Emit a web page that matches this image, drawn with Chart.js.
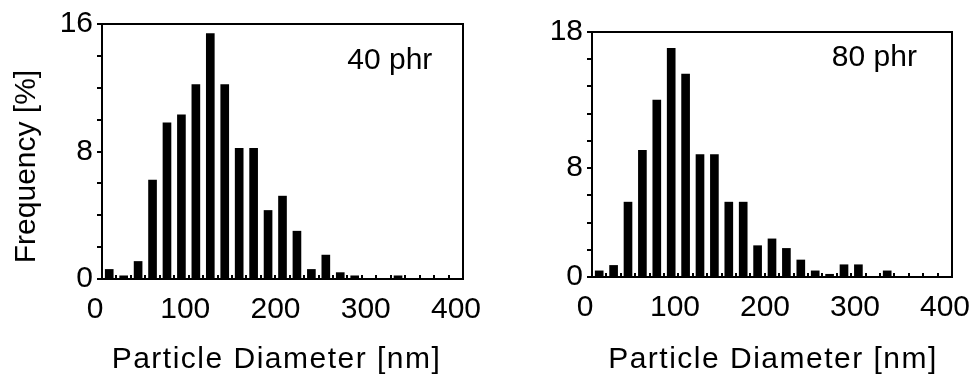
<!DOCTYPE html>
<html>
<head>
<meta charset="utf-8">
<script src="https://cdn.jsdelivr.net/npm/chart.js@4.4.1/dist/chart.umd.min.js"></script>
<style>
  html, body { margin: 0; padding: 0; background: #fff; }
  #wrap { position: relative; width: 980px; height: 376px; }
  canvas { position: absolute; top: 0; }
</style>
</head>
<body>
<div id="wrap">
  <canvas id="c40" width="490" height="376" style="left:0"></canvas>
  <canvas id="c80" width="490" height="376" style="left:490px"></canvas>
</div>
<script>
// 16 nm bins, centre of each bin [nm]
const binCenters = [8, 24, 40, 56, 72, 88, 104, 120, 136, 152, 168, 184, 200,
                    216, 232, 248, 264, 280, 296, 312, 328, 344, 360, 376, 392];
// bin boundaries marked along the bottom axis
const binEdges = [16, 32, 48, 64, 80, 96, 112, 128, 144, 160, 176, 192,
                  208, 224, 240, 256, 272, 288, 304, 320, 336, 352, 368, 384];

// frequency [%] per bin
const freq40 = [0.6, 0.2, 1.1, 6.2, 9.8, 10.3, 12.2, 15.4, 12.2, 8.2, 8.2, 4.3, 5.2,
                3.0, 0.6, 1.5, 0.4, 0.2, 0, 0, 0.2, 0, 0, 0, 0];
const freq80 = [0.45, 0.85, 5.5, 9.3, 13.0, 16.8, 14.9, 9.0, 9.0, 5.5, 5.5, 2.3, 2.8,
                2.1, 1.25, 0.45, 0.2, 0.9, 0.9, 0, 0.45, 0, 0, 0, 0];

const xTickLabels = [0, 100, 200, 300, 400];
const yTickLabels40 = [0, 8, 16];
const yTickLabels80 = [0, 8, 18];

const FONT = '"Liberation Sans", Arial, Helvetica, sans-serif';

// frame, bin marks, sample tag and axis titles
const panelDecor = {
  id: 'panelDecor',
  afterDatasetsDraw(chart, args, o) {
    const { ctx, chartArea: a, scales: { x, y } } = chart;
    ctx.save();
    ctx.strokeStyle = '#000';
    ctx.lineWidth = 2;
    const y0 = y.getPixelForValue(0);
    ctx.beginPath();
    binEdges.forEach(e => {
      const px = Math.round(x.getPixelForValue(e));
      ctx.moveTo(px, y0);
      ctx.lineTo(px, y0 - 4);
    });
    ctx.stroke();
    ctx.strokeRect(a.left, a.top, a.right - a.left, a.bottom - a.top);

    ctx.fillStyle = '#000';
    ctx.font = '30px ' + FONT;
    ctx.textAlign = 'right';
    ctx.textBaseline = 'middle';
    ctx.fillText(o.tag, x.getPixelForValue(o.tagX), y.getPixelForValue(o.tagY));

    ctx.textAlign = 'center';
    ctx.letterSpacing = '1.5px';
    ctx.fillText(o.xTitle, (a.left + a.right) / 2 + o.xTitleShift, 360);
    ctx.letterSpacing = '0px';
    if (o.yTitle) {
      ctx.translate(27, (a.top + a.bottom) / 2 + 15);
      ctx.rotate(-Math.PI / 2);
      ctx.fillText(o.yTitle, 0, 0);
    }
    ctx.restore();
  }
};

function makePanel(id, values, yMax, yLabels, cfg) {
  return new Chart(document.getElementById(id), {
    type: 'bar',
    data: {
      datasets: [{
        data: binCenters.map((c, i) => ({ x: c, y: values[i] })),
        backgroundColor: '#000',
        borderWidth: 0,
        barThickness: 8
      }]
    },
    options: {
      responsive: false,
      animation: false,
      devicePixelRatio: 1,
      layout: { padding: { top: cfg.top, right: cfg.right, left: 0, bottom: 0 } },
      plugins: {
        legend: { display: false },
        tooltip: { enabled: false },
        panelDecor: {
          tag: cfg.tag, tagX: cfg.tagX, tagY: cfg.tagY,
          xTitle: 'Particle Diameter [nm]', xTitleShift: cfg.xTitleShift,
          yTitle: cfg.yTitle
        }
      },
      scales: {
        x: {
          type: 'linear',
          min: 0,
          max: 400,
          offset: false,
          afterFit: s => {
            s.height = cfg.xHeight;
            // let the end labels hang into the outer margin
            s.paddingLeft = 0;
            s.paddingRight = 0;
          },
          grid: { display: false, drawTicks: false, offset: false },
          border: { display: false },
          ticks: {
            stepSize: 100,
            autoSkip: false,
            maxRotation: 0,
            padding: 13,
            labelOffset: -7,
            color: '#000',
            font: { family: FONT, size: 30 },
            callback: v => xTickLabels.includes(v) ? String(v) : ''
          }
        },
        y: {
          min: 0,
          max: yMax,
          afterFit: s => { s.width = 102; },
          border: { display: false },
          grid: {
            drawOnChartArea: false,
            drawTicks: true,
            tickLength: 5,
            tickWidth: 2,
            tickColor: '#000',
            lineWidth: 2
          },
          ticks: {
            stepSize: 2,
            autoSkip: false,
            padding: 4,
            color: '#000',
            font: { family: FONT, size: 30 },
            callback: v => yLabels.includes(v) ? String(v) : ''
          }
        }
      }
    },
    plugins: [panelDecor]
  });
}

makePanel('c40', freq40, 16, yTickLabels40,
  { top: 24, right: 27, xHeight: 97, yTitle: 'Frequency [%]', xTitleShift: -6,
    tag: '40 phr', tagX: 366, tagY: 13.7 });
makePanel('c80', freq80, 18, yTickLabels80,
  { top: 32, right: 28, xHeight: 99, yTitle: '', xTitleShift: 1,
    tag: '80 phr', tagX: 361, tagY: 16.1 });
</script>
</body>
</html>
